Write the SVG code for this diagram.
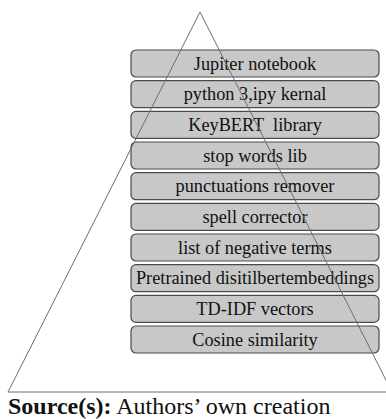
<svg xmlns="http://www.w3.org/2000/svg" width="386" height="419" viewBox="0 0 386 419">
<style>
.box{fill:#c8c8c8;stroke:#4a4a4a;stroke-width:1.2}
.lbl{font-family:'Liberation Serif',serif;font-size:18.3px;fill:#111;text-anchor:middle}
.tri{fill:none;stroke:#6e6e6e;stroke-width:1}
</style>
<rect width="386" height="419" fill="#fff"/>
<g id="n1"><rect class="box" x="131" y="50" width="248" height="27" rx="5"/><text class="lbl" x="255" y="69.5">Jupiter notebook</text></g>
<g id="n2"><rect class="box" x="131" y="80.7" width="248" height="27" rx="5"/><text class="lbl" x="255" y="100.2">python 3,ipy kernal</text></g>
<g id="n3"><rect class="box" x="131" y="111.4" width="248" height="27" rx="5"/><text class="lbl" x="255" y="130.9" xml:space="preserve">KeyBERT  library</text></g>
<g id="n4"><rect class="box" x="131" y="142" width="248" height="27" rx="5"/><text class="lbl" x="255" y="161.5">stop words lib</text></g>
<g id="n5"><rect class="box" x="131" y="172.7" width="248" height="27" rx="5"/><text class="lbl" x="255" y="192.2">punctuations remover</text></g>
<g id="n6"><rect class="box" x="131" y="203.4" width="248" height="27" rx="5"/><text class="lbl" x="255" y="222.9">spell corrector</text></g>
<g id="n7"><rect class="box" x="131" y="234" width="248" height="27" rx="5"/><text class="lbl" x="255" y="253.5">list of negative terms</text></g>
<g id="n8"><rect class="box" x="131" y="264.7" width="248" height="27" rx="5"/><text class="lbl" x="255" y="284.2">Pretrained disitilbertembeddings</text></g>
<g id="n9"><rect class="box" x="131" y="295.4" width="248" height="27" rx="5"/><text class="lbl" x="255" y="314.9">TD-IDF vectors</text></g>
<g id="n10"><rect class="box" x="131" y="326" width="248" height="27" rx="5"/><text class="lbl" x="255" y="345.5">Cosine similarity</text></g>
<g id="connectors"><path class="tri" d="M386 392 H8 L200 12 L392 392"/></g>
<text x="8" y="414" font-family="Liberation Serif, serif" font-size="24" fill="#111"><tspan font-weight="bold">Source(s):</tspan> Authors’ own creation</text>
</svg>
